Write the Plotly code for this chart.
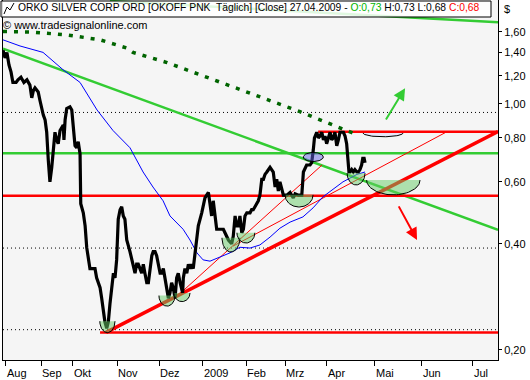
import numpy as np
import plotly.graph_objects as go

# x values are trading-bar indices counted from the first bar on the chart
month_labels = ["Aug", "Sep", "Okt", "Nov", "Dez", "2009", "Feb", "Mrz", "Apr", "Mai", "Jun", "Jul"]
month_bars = [1.3, 16.65, 30.3, 49.7, 67.96, 86.8, 105.65, 122.6, 140.7, 161.7, 182.0, 204.2]

y_tick_vals = [0.2, 0.4, 0.6, 0.8, 1.0, 1.2, 1.4, 1.6]
y_tick_text = ["0,20", "0,40", "0,60", "0,80", "1,00", "1,20", "1,40", "1,60"]

price_bars = [0.0, 0.9, 1.7, 2.6, 3.5, 4.3, 5.7, 6.5, 7.8, 9.1, 10.4, 11.7, 12.5, 13.2, 13.9, 15.3,
              16.1, 16.8, 17.5, 18.3, 19.0, 19.7, 20.4, 21.2, 21.9, 22.6, 23.3, 24.0, 24.8, 25.5,
              26.2, 26.5, 27.0, 27.7, 29.1, 29.9, 30.6, 31.3, 32.0, 32.7, 33.5, 33.8, 34.9, 35.7,
              36.4, 37.1, 37.8, 39.3, 40.0, 40.7, 42.2, 42.9, 43.6, 44.3, 45.1, 45.8, 46.5, 47.3,
              48.0, 48.7, 49.4, 50.1, 50.9, 51.6, 52.3, 53.0, 53.8, 55.2, 56.7, 57.4, 58.1, 58.8,
              60.3, 61.0, 61.7, 62.5, 63.2, 63.9, 64.7, 65.3, 66.1, 66.8, 67.5, 68.3, 69.0, 69.7,
              70.4, 71.2, 71.9, 72.6, 73.3, 74.0, 74.8, 75.5, 76.2, 77.0, 78.1, 78.4, 79.1, 79.9,
              80.6, 81.3, 82.0, 82.7, 83.5, 84.2, 84.9, 86.4, 87.8, 89.3, 90.0, 90.7, 91.4, 92.2,
              92.9, 94.3, 95.8, 96.5, 98.0, 99.4, 100.1, 100.9, 101.6, 102.3, 103.0, 103.8, 104.5,
              105.2, 106.0, 107.4, 108.1, 108.8, 110.3, 111.0, 111.7, 112.5, 113.2, 113.9, 114.7,
              115.3, 116.1, 117.5, 118.3, 119.0, 119.7, 120.4, 121.2, 121.9, 123.4, 124.8, 126.2,
              127.0, 128.4, 129.9, 130.6, 131.3, 132.0, 133.5, 134.2, 134.9, 135.4, 136.4, 137.1,
              137.8, 138.6, 139.3, 140.0, 140.7, 141.4, 142.2, 142.9, 143.6, 144.3, 145.1, 145.8,
              146.5, 148.0, 148.7, 149.4, 149.9, 150.4, 150.9, 151.6, 152.3, 153.0, 153.8, 154.5,
              155.2, 155.9, 156.4, 157.0, 157.4]
price_close = [1.42, 1.35, 1.40, 1.29, 1.23, 1.15, 1.15, 1.17, 1.19, 1.15, 1.17, 1.13, 1.04, 1.09,
               1.11, 1.08, 1.02, 0.96, 0.93, 0.90, 0.83, 0.69, 0.60, 0.66, 0.75, 0.83, 0.79, 0.77,
               0.84, 0.86, 0.87, 0.79, 0.90, 0.97, 0.98, 0.96, 0.83, 0.76, 0.75, 0.78, 0.72, 0.52,
               0.49, 0.45, 0.39, 0.36, 0.34, 0.34, 0.34, 0.32, 0.30, 0.28, 0.26, 0.24, 0.23, 0.24,
               0.27, 0.30, 0.33, 0.32, 0.36, 0.47, 0.50, 0.51, 0.48, 0.47, 0.41, 0.38, 0.34, 0.33,
               0.35, 0.35, 0.33, 0.35, 0.33, 0.31, 0.31, 0.34, 0.37, 0.38, 0.38, 0.37, 0.35, 0.33,
               0.33, 0.34, 0.32, 0.30, 0.28, 0.29, 0.31, 0.30, 0.28, 0.32, 0.33, 0.31, 0.29, 0.32,
               0.34, 0.33, 0.35, 0.34, 0.35, 0.34, 0.38, 0.41, 0.45, 0.49, 0.54, 0.56, 0.52, 0.48,
               0.53, 0.48, 0.44, 0.44, 0.44, 0.43, 0.41, 0.40, 0.42, 0.48, 0.45, 0.45, 0.48, 0.43,
               0.44, 0.48, 0.49, 0.49, 0.50, 0.50, 0.52, 0.53, 0.55, 0.61, 0.61, 0.63, 0.64, 0.65,
               0.66, 0.64, 0.58, 0.61, 0.565, 0.60, 0.565, 0.55, 0.55, 0.56, 0.54, 0.555, 0.55,
               0.55, 0.64, 0.66, 0.67, 0.67, 0.68, 0.74, 0.80, 0.83, 0.80, 0.81, 0.83, 0.79, 0.81,
               0.77, 0.80, 0.83, 0.79, 0.80, 0.83, 0.76, 0.79, 0.83, 0.83, 0.81, 0.77, 0.69, 0.64,
               0.64, 0.65, 0.64, 0.65, 0.64, 0.64, 0.65, 0.67, 0.70, 0.70, 0.68]

ma_bars = [0, 7.4, 17.4, 26.1, 33.5, 40.9, 47.8, 55.2, 60.9, 65.2, 69.6, 72.6, 78.3, 81.3, 84.3,
           87.0, 90.0, 94.3, 98.7, 103.0, 107.4, 111.7, 116.1, 120.4, 124.8, 130.4, 134.8, 139.1,
           142.2, 147.8, 153.9, 157.4]
ma_values = [1.52, 1.46, 1.40, 1.25, 1.15, 0.96, 0.84, 0.75, 0.64, 0.58, 0.53, 0.48, 0.44, 0.41,
             0.377, 0.36, 0.357, 0.367, 0.377, 0.391, 0.389, 0.397, 0.418, 0.443, 0.461, 0.477,
             0.506, 0.544, 0.563, 0.60, 0.63, 0.64]

ma200_bars = [0, 11.7, 27.8, 42.2, 53.9, 56.5, 71.3, 85.7, 100.0, 114.8, 129.1, 143.5, 154.3]
ma200_values = [1.605, 1.60, 1.57, 1.52, 1.44, 1.40, 1.31, 1.21, 1.12, 1.03, 0.95, 0.87, 0.815]

grid_levels = [0.945, 0.389, 0.228]

green_level = 0.723
green_down_bars = [0, 215.2]
green_down_values = [1.435, 0.438]
green_top_bars = [46.5, 215.2]
green_top_values = [1.96, 1.705]

red_levels = [0.833, 0.548, 0.224]
red_level_start = [137.0, 0.0, 42.2]
red_thick_bars = [44.8, 215.2]
red_thick_values = [0.224, 0.834]
red_thin1_bars = [77.0, 138.7]
red_thin1_values = [0.289, 0.670]
red_thin2_bars = [100.0, 193.0]
red_thin2_values = [0.394, 0.833]

bowl_center = [45.4, 71.3, 77.8, 99.1, 105.6, 128.7, 153.5, 169.7]
bowl_halfwidth = [3.3, 3.5, 3.5, 3.9, 3.9, 6.1, 3.9, 11.6]
bowl_top = [0.241, 0.285, 0.290, 0.416, 0.430, 0.551, 0.635, 0.607]
bowl_bottom = [0.2236, 0.266, 0.274, 0.379, 0.402, 0.509, 0.588, 0.551]

lav_center, lav_halfwidth, lav_top, lav_bottom = 165.2, 8.7, 0.826, 0.806

ell_center, ell_halfwidth, ell_mid, ell_halfdecades = 134.9, 4.35, 0.706, 0.0128

arrow_tail_bars = [166.1, 171.7]
arrow_tail_values = [0.893, 0.516]
arrow_tip_bars = [174.8, 180.0]
arrow_tip_values = [1.108, 0.410]
arrow_colors = ["#33cc33", "#ff0000"]

X_MAX = 215.2
FONT = "Liberation Sans"
LGREEN = "#33cc33"

fig = go.Figure()


def line(xs, ys, color, width, dash=None):
    fig.add_trace(go.Scatter(x=xs, y=ys, mode="lines", hoverinfo="skip",
                             line=dict(color=color, width=width, dash=dash)))


for g in grid_levels:
    line([0, X_MAX], [g, g], "#000000", 1, "1px,3px")

line([0, X_MAX], [green_level, green_level], LGREEN, 2.5)
line(green_down_bars, green_down_values, LGREEN, 2.5)
line(green_top_bars, green_top_values, LGREEN, 2.5)

for lv, st in zip(red_levels, red_level_start):
    line([st, X_MAX], [lv, lv], "#ff0000", 2.5)
line(red_thick_bars, red_thick_values, "#ff0000", 3.5)
line(red_thin1_bars, red_thin1_values, "#ff0000", 1)
line(red_thin2_bars, red_thin2_values, "#ff0000", 1)

line(ma200_bars, ma200_values, "#006400", 3.5, "4px,7px")
line(ma_bars, ma_values, "#0000ff", 1)
line(price_bars, price_close, "#000000", 3.2)


def half_ellipse(c, hw, top, bot, fill, n=40):
    t = np.linspace(0, np.pi, n)
    xs = c + hw * np.cos(t)
    ly = np.log10(top) - (np.log10(top) - np.log10(bot)) * np.sin(t)
    ys = 10 ** ly
    fig.add_trace(go.Scatter(x=list(xs) + [xs[0]], y=list(ys) + [ys[0]], mode="lines",
                             fill="toself", fillcolor=fill, line=dict(width=0),
                             hoverinfo="skip"))
    fig.add_trace(go.Scatter(x=xs, y=ys, mode="lines", line=dict(color="#000000", width=1),
                             hoverinfo="skip"))


for c, hw, tp, bt in zip(bowl_center, bowl_halfwidth, bowl_top, bowl_bottom):
    half_ellipse(c, hw, tp, bt, "rgba(102,204,102,0.5)")
half_ellipse(lav_center, lav_halfwidth, lav_top, lav_bottom, "rgba(228,228,248,0.9)")

t = np.linspace(0, 2 * np.pi, 60)
ex = ell_center + ell_halfwidth * np.cos(t)
ey = 10 ** (np.log10(ell_mid) + ell_halfdecades * np.sin(t))
fig.add_trace(go.Scatter(x=ex, y=ey, mode="lines", fill="toself",
                         fillcolor="rgba(100,100,230,0.5)",
                         line=dict(color="#000000", width=1), hoverinfo="skip"))

for tb, tv, hb, hv, col in zip(arrow_tail_bars, arrow_tail_values, arrow_tip_bars,
                               arrow_tip_values, arrow_colors):
    fig.add_annotation(x=hb, y=np.log10(hv), ax=tb, ay=np.log10(tv), xref="x", yref="y",
                       axref="x", ayref="y", showarrow=True, arrowhead=2, arrowsize=1.2,
                       arrowwidth=2, arrowcolor=col, text="")

for lab, b in zip(month_labels, month_bars):
    fig.add_annotation(x=b, y=0, xref="x", yref="paper", yanchor="top", xanchor="left",
                       yshift=-5, xshift=-1, showarrow=False, text=lab,
                       font=dict(family=FONT, size=11, color="#000000"))

# title box
fig.add_shape(type="rect", xref="paper", yref="paper", xsizemode="pixel", ysizemode="pixel",
              xanchor=0, yanchor=1, x0=-2, x1=488, y0=-17, y1=-1,
              fillcolor="rgba(255,255,255,0.85)", line=dict(color="#000000", width=1),
              layer="above")
fig.add_shape(type="path", xref="paper", yref="paper", xsizemode="pixel", ysizemode="pixel",
              xanchor=0, yanchor=1, path="M 1,-14 L 4,-7 L 7,-10 L 11,-3",
              line=dict(color="#000000", width=1), layer="above")
title = ("ORKO SILVER CORP ORD [OKOFF PNK\u00a0 Täglich] [Close] 27.04.2009 - "
         "<span style='color:#00b400'>O:0,73</span> H:0,73 L:0,68 "
         "<span style='color:#ff0000'>C:0,68</span>")
fig.add_annotation(x=0, y=1, xref="paper", yref="paper", xanchor="left", yanchor="top",
                   xshift=13, yshift=0, showarrow=False, text=title,
                   font=dict(family=FONT, size=10.3, color="#000000"))
fig.add_annotation(x=0, y=1, xref="paper", yref="paper", xanchor="left", yanchor="top",
                   xshift=-2, yshift=-17, showarrow=False, text="© www.tradesignalonline.com",
                   font=dict(family=FONT, size=11, color="#000000"))
fig.add_annotation(x=1, y=1, xref="paper", yref="paper", xanchor="left", yanchor="top",
                   xshift=4, yshift=-1, showarrow=False, text="$",
                   font=dict(family=FONT, size=11, color="#000000"))

fig.update_layout(
    width=530, height=380,
    margin=dict(l=3, r=32, t=0, b=20),
    paper_bgcolor="#ffffff", plot_bgcolor="#f5f5f5",
    showlegend=False,
    font=dict(family=FONT, size=11, color="#000000"),
    xaxis=dict(range=[0, X_MAX], tickvals=month_bars, showticklabels=False, ticks="outside",
               ticklen=5, tickcolor="#000000", showgrid=False, zeroline=False,
               showline=True, linecolor="#000000", linewidth=1, mirror=True),
    yaxis=dict(type="log", range=[-0.72825, 0.29506], side="right", tickvals=y_tick_vals,
               ticktext=y_tick_text, ticks="outside", ticklen=3, tickcolor="#000000",
               showgrid=False, zeroline=False, showline=True, linecolor="#000000",
               linewidth=1, mirror=True, tickfont=dict(family=FONT, size=11)),
)

fig.write_html("out.html", config={"displayModeBar": False},
               post_script="document.body.style.margin='0';document.body.style.overflow='hidden';")
